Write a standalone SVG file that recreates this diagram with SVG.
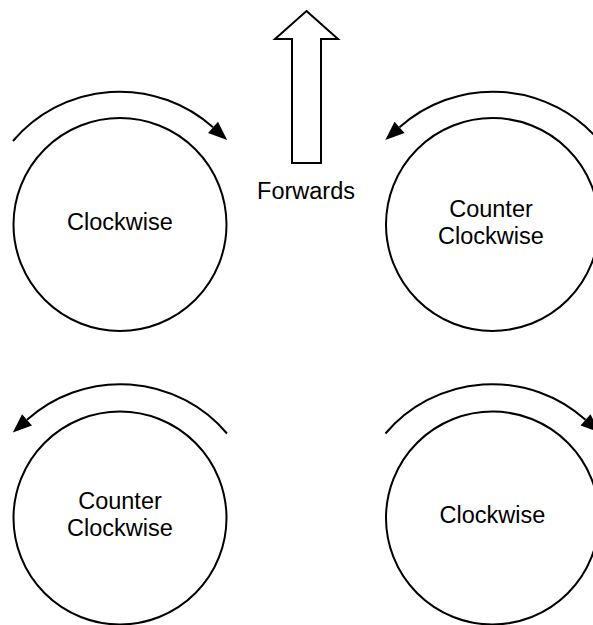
<svg xmlns="http://www.w3.org/2000/svg" width="593" height="625" viewBox="0 0 593 625">
  <style>
    .ring { fill: #ffffff; stroke: #000000; stroke-width: 2; }
    .turn { fill: none; stroke: #000000; stroke-width: 2; }
    .block { fill: #ffffff; stroke: #000000; stroke-width: 2; stroke-linejoin: miter; }
    .label { font-family: "Liberation Sans", Arial, sans-serif; font-size: 23.5px; fill: #000000; text-anchor: middle; }
  </style>
  <defs>
    <marker id="head" markerUnits="userSpaceOnUse" markerWidth="20" markerHeight="16" refX="0" refY="0" viewBox="0 -8 20 16" orient="auto" overflow="visible">
      <path d="M0,-7.5 L19,0 L0,7.5 Z" fill="#000000"/>
    </marker>
  </defs>
  <rect width="593" height="625" fill="#ffffff"/>

  <!-- direction of travel -->
  <g id="forwards">
    <polygon class="block" points="306.5,11 338,39 321,39 321,163 292,163 292,39 275,39"/>
    <text class="label" x="306" y="199">Forwards</text>
  </g>

  <!-- wheels -->
  <g id="wheel-front-left">
    <circle class="ring" cx="120" cy="224.5" r="106.5"/>
    <text class="label" x="120" y="229.5">Clockwise</text>
  </g>
  <g id="wheel-front-right">
    <circle class="ring" cx="492.5" cy="224.5" r="106.5"/>
    <text class="label" x="491" y="216.5">Counter</text>
    <text class="label" x="491" y="243.5">Clockwise</text>
  </g>
  <g id="wheel-rear-left">
    <circle class="ring" cx="120" cy="518" r="106.5"/>
    <text class="label" x="120" y="509">Counter</text>
    <text class="label" x="120" y="536">Clockwise</text>
  </g>
  <g id="wheel-rear-right">
    <circle class="ring" cx="492.5" cy="518" r="106.5"/>
    <text class="label" x="492.5" y="523">Clockwise</text>
  </g>

  <!-- rotation arrows -->
  <g id="connectors">
    <path class="turn" marker-end="url(#head)" d="M13,141 A140,140 0 0 1 213,127.3"/>
    <path class="turn" marker-end="url(#head)" d="M599.5,141 A140,140 0 0 0 399.5,127.3"/>
    <path class="turn" marker-end="url(#head)" d="M227,433.5 A140,140 0 0 0 27,419.8"/>
    <path class="turn" marker-end="url(#head)" d="M385.5,433.5 A140,140 0 0 1 585.5,419.8"/>
  </g>
</svg>
